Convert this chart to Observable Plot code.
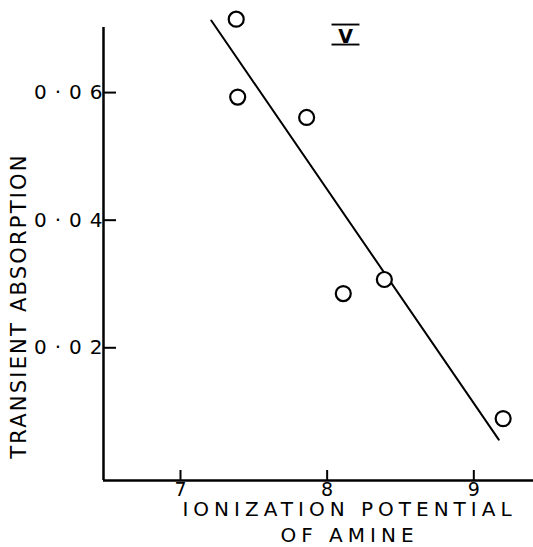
<!DOCTYPE html>
<html>
<head>
<meta charset="utf-8">
<script src="https://cdn.jsdelivr.net/npm/d3@7"></script>
<script src="https://cdn.jsdelivr.net/npm/@observablehq/plot@0.6"></script>
<style>
  body { margin: 0; background: #fff; }
  #chart svg { display: block; }
</style>
</head>
<body>
<div id="chart"></div>
<script>
// Transient absorption against the ionization potential of the amine
const ionization = [7.38, 7.39, 7.86, 8.11, 8.39, 9.20];
const absorption = [0.0715, 0.0593, 0.0561, 0.0285, 0.0307, 0.0089];

// Straight line fitted through the points (end points)
const fitIonization = [7.21, 9.17];
const fitAbsorption = [0.0713, 0.0056];

// Axes
const xDomain = [6.475, 9.407];
const yDomain = [-0.0008, 0.0702];
const xTicks = [7, 8, 9];
const xTickLabels = ["7", "8", "9"];
const yTicks = [0.02, 0.04, 0.06];
const yTickLabels = ["0·02", "0·04", "0·06"];

// Texts
const xTitle = "IONIZATION POTENTIAL\nOF AMINE";
const yTitle = "TRANSIENT ABSORPTION";
const panelLabel = "\u00a0V\u00a0";

const points = ionization.map((x, i) => ({x, y: absorption[i]}));
const fit = fitIonization.map((x, i) => ({x, y: fitAbsorption[i]}));

const font = "'DejaVu Sans', sans-serif";

const chart = Plot.plot({
  width: 533,
  height: 547,
  marginLeft: 103,
  marginRight: 0,
  marginTop: 27,
  marginBottom: 67,
  style: {fontFamily: font, background: "#fff", color: "#000", overflow: "visible"},
  x: {domain: xDomain},
  y: {domain: yDomain},
  marks: [
    Plot.ruleY([yDomain[0]], {stroke: "#000", strokeWidth: 2.5}),
    Plot.ruleX([xDomain[0]], {stroke: "#000", strokeWidth: 2.5}),
    Plot.axisX(xTicks, {
      tickSize: -10, tickPadding: 12, fontSize: 19, label: null, strokeWidth: 2,
      tickFormat: d => xTickLabels[xTicks.indexOf(d)]
    }),
    Plot.axisY(yTicks, {
      tickSize: -13, tickPadding: 6, fontSize: 20, label: null, strokeWidth: 2,
      tickFormat: d => yTickLabels[yTicks.indexOf(d)]
    }),
    Plot.line(fit, {x: "x", y: "y", stroke: "#000", strokeWidth: 2}),
    Plot.dot(points, {x: "x", y: "y", r: 7.5, stroke: "#000", strokeWidth: 2.2, fill: "#fff"}),
    Plot.text([xTitle], {
      frameAnchor: "bottom", lineAnchor: "top", textAnchor: "middle",
      dx: 31, dy: 17, fontSize: 20, lineHeight: 1.3, fill: "#000"
    }),
    Plot.text([yTitle], {
      frameAnchor: "left", rotate: -90, textAnchor: "middle", lineAnchor: "middle",
      dx: -84, dy: 52, fontSize: 21, fill: "#000"
    }),
    Plot.text([panelLabel], {
      frameAnchor: "top-left", textAnchor: "middle", lineAnchor: "middle",
      dx: 242, dy: 9, fontSize: 19, fontWeight: "bold", fill: "#000"
    })
  ]
});

// Lettering: wide spacing like a stencil guide
const svg = d3.select(chart);
svg.selectAll('g[aria-label="x-axis tick label"] text').style("font-size", "19px");
svg.selectAll('g[aria-label="y-axis tick label"] text')
  .style("font-size", "20px")
  .style("letter-spacing", "8px");
const texts = svg.selectAll('g[aria-label="text"]').nodes();
d3.select(texts[0]).selectAll("text").style("letter-spacing", "5px");
d3.select(texts[1]).selectAll("text").style("letter-spacing", "2.2px");
d3.select(texts[2]).selectAll("text")
  .style("text-decoration", "overline underline")
  .style("text-decoration-thickness", "2px");

document.getElementById("chart").appendChild(chart);
</script>
</body>
</html>
